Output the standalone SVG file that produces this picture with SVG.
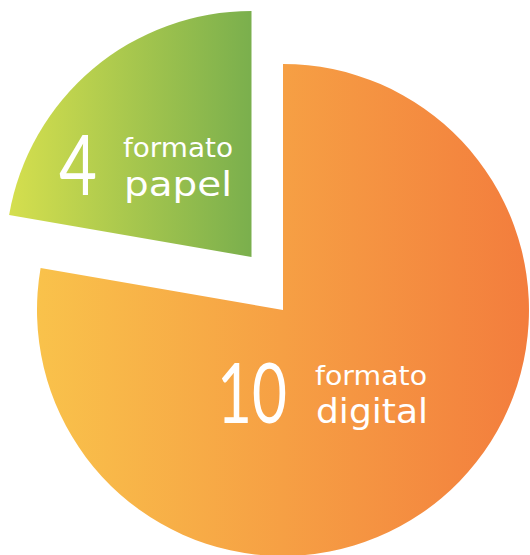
<svg xmlns="http://www.w3.org/2000/svg" width="530" height="555" viewBox="0 0 530 555">
<defs>
<linearGradient id="gOrange" gradientUnits="userSpaceOnUse" x1="37" y1="0" x2="529" y2="0">
<stop offset="0" stop-color="#F9C24B"/>
<stop offset="1" stop-color="#F37D3D"/>
</linearGradient>
<linearGradient id="gGreen" gradientUnits="userSpaceOnUse" x1="9" y1="0" x2="252" y2="0">
<stop offset="0" stop-color="#D5DF4E"/>
<stop offset="1" stop-color="#7AAF4D"/>
</linearGradient>
<style>
.t{fill:#ffffff}
.big{font-family:Lato,"Open Sans","Liberation Sans",sans-serif;font-weight:400;font-size:83px}
.small{font-family:"DejaVu Sans","Liberation Sans",sans-serif;font-weight:400;font-size:27px}
.mid{font-family:"DejaVu Sans","Liberation Sans",sans-serif;font-weight:400;font-size:33px}
</style>
</defs>
<g id="slice-digital">
<path d="M283,310 L283,64 A246,246 0 1 1 40.6,268 Z" fill="url(#gOrange)"/>
<text class="t big" x="217" y="423" textLength="70" lengthAdjust="spacingAndGlyphs">10</text>
<text class="t small" x="315" y="385" textLength="112" lengthAdjust="spacingAndGlyphs">formato</text>
<text class="t mid" x="316" y="423" textLength="112" lengthAdjust="spacingAndGlyphs">digital</text>
</g>
<g id="slice-papel">
<path d="M251.5,257 L9.1,215.1 A246,246 0 0 1 251.5,11 Z" fill="url(#gGreen)"/>
<text class="t big" x="59" y="195" textLength="38" lengthAdjust="spacingAndGlyphs">4</text>
<text class="t small" x="123" y="157" textLength="110" lengthAdjust="spacingAndGlyphs">formato</text>
<text class="t mid" x="124" y="196" textLength="108" lengthAdjust="spacingAndGlyphs">papel</text>
</g>
<g id="connectors"></g>
</svg>
